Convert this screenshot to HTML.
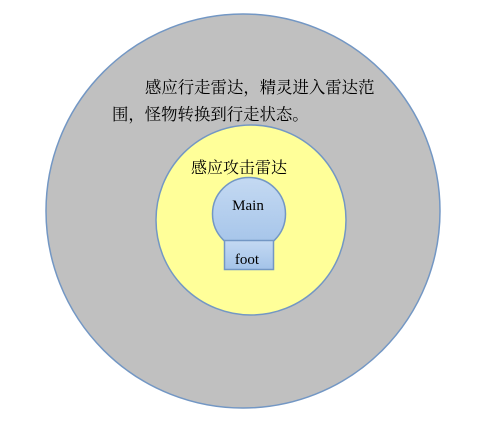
<!DOCTYPE html>
<html><head><meta charset="utf-8"><style>
body{margin:0;background:#fff;width:480px;height:424px;overflow:hidden}
svg text{font-family:"Liberation Serif","Noto Serif CJK SC","Noto Sans CJK SC",serif}
</style></head><body>
<svg width="480" height="424" xmlns="http://www.w3.org/2000/svg">
<defs>
<linearGradient id="g" x1="0" y1="0" x2="0" y2="1"><stop offset="0" stop-color="#c4d9f2"/><stop offset="1" stop-color="#a3c3e9"/></linearGradient>
</defs>
<circle cx="243" cy="211" r="197" fill="#c0c0c0" stroke="#7397c4" stroke-width="1.5"/>
<circle cx="251" cy="220" r="95" fill="#ffff99" stroke="#7397c4" stroke-width="1.5"/>
<circle cx="249" cy="214" r="36.5" fill="url(#g)" stroke="#7397c4" stroke-width="1.5"/>
<rect x="224.5" y="240.5" width="49" height="29" fill="url(#g)" stroke="#7397c4" stroke-width="1.5"/>
<text x="145" y="93" font-size="16.4" fill="#000">感应行走雷达，精灵进入雷达范</text>
<text x="112" y="120" font-size="16.4" fill="#000">围，怪物转换到行走状态。</text>
<text x="191" y="173" font-size="16" fill="#000">感应攻击雷达</text>
<text x="248" y="210" font-size="15" text-anchor="middle" fill="#000">Main</text>
<text x="247" y="264" font-size="15" text-anchor="middle" fill="#000">foot</text>
</svg>
</body></html>
